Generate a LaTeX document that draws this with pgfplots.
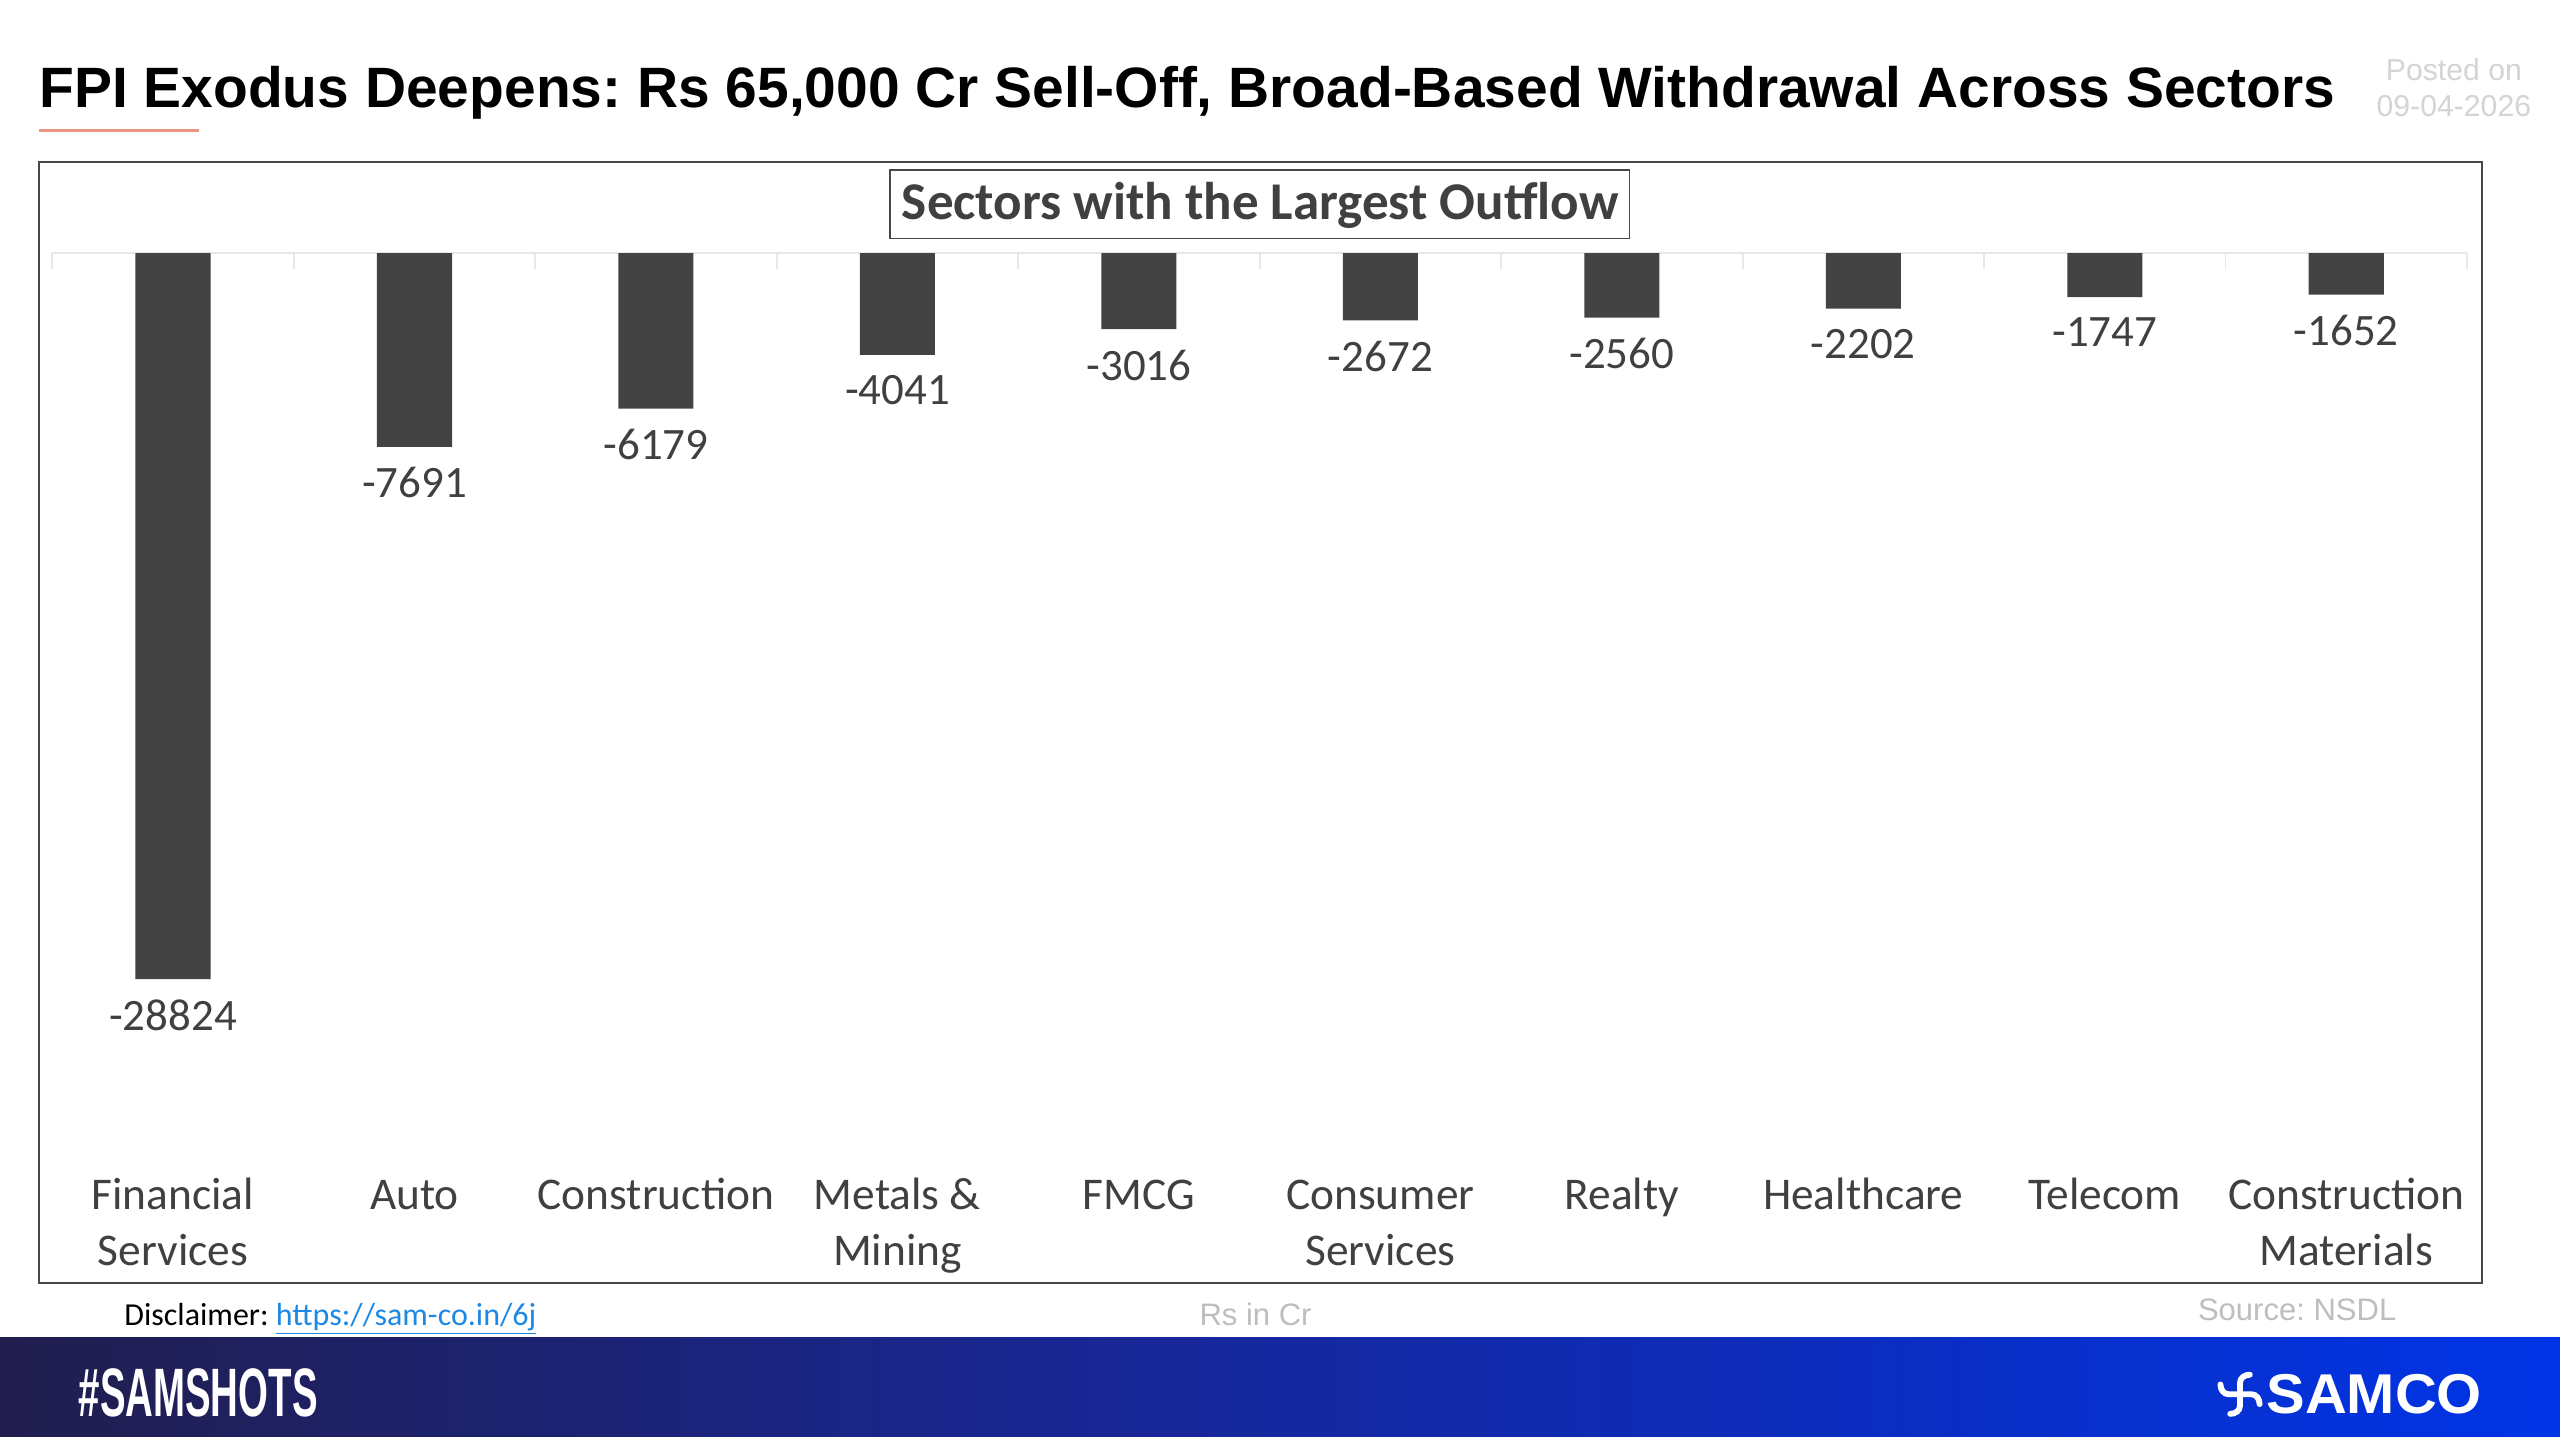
\documentclass[border=0pt]{standalone}
\usepackage{fontspec}
\setmainfont{Carlito}
\newfontfamily\arial{Liberation Sans}
\usepackage{graphicx}
\usepackage{pgfplots}
\pgfplotsset{compat=1.18}
\frenchspacing

\definecolor{barcol}{RGB}{67,67,67}
\definecolor{txt}{RGB}{64,64,64}
\definecolor{zeroline}{RGB}{226,232,236}
\definecolor{framecol}{RGB}{72,72,72}
\definecolor{navy}{RGB}{33,30,78}
\definecolor{midblue}{RGB}{22,40,160}
\definecolor{brightblue}{RGB}{0,52,230}
\definecolor{linkblue}{RGB}{30,136,229}
\definecolor{lgray}{RGB}{190,190,190}
\definecolor{pgray}{RGB}{212,212,212}
\definecolor{salmon}{RGB}{235,150,130}

\begin{document}
\begin{tikzpicture}[x=1pt,y=1pt]
\path[use as bounding box, fill=white] (0,0) rectangle (1568,882);

% heading
\node[anchor=base west, inner sep=0] at (24,816)
  {\resizebox{1406pt}{!}{\arial\bfseries\fontsize{34}{40}\selectfont FPI Exodus Deepens: Rs 65,000 Cr Sell-Off, Broad-Based Withdrawal Across Sectors}};
\draw[salmon, line width=1.4pt] (24,802) -- (122,802);
\node[text=pgray, inner sep=0] at (1503,839) {\arial\fontsize{18.5}{22}\selectfont Posted on};
\node[text=pgray, inner sep=0] at (1503,817) {\arial\fontsize{18.5}{22}\selectfont 09-04-2026};

% chart frame and title box
\draw[framecol, line width=1.3pt] (24,783) rectangle (1520,96);
\draw[framecol, line width=0.9pt] (545,778) rectangle (998,736);
\node[text=txt, inner sep=0] at (772,756)
  {\bfseries\fontsize{32.5}{38}\selectfont Sectors with the Largest Outflow};

% zero line with category separators
\draw[zeroline, line width=1.2pt] (32,727) -- (1511,727);
\foreach \i in {0,...,10}
  \draw[zeroline, line width=1.2pt] ({32+\i*147.9},727) -- ++(0,-10);

\begin{axis}[
  at={(32pt,187pt)}, anchor=south west,
  width=1479pt, height=540pt, scale only axis,
  xmin=-0.5, xmax=9.5, ymin=-35000, ymax=0,
  axis line style={draw=none},
  ytick=\empty,
  xtick={0,...,9},
  xticklabels={{Financial\\Services},Auto,Construction,{Metals \&\\Mining},FMCG,{Consumer\\Services},Realty,Healthcare,Telecom,{Construction\\Materials}},
  major tick length=0pt,
  typeset ticklabels with strut,
  xticklabel style={font=\fontsize{27.8}{34}\selectfont, text=txt, align=center, anchor=north, inner sep=0pt, yshift=-22pt},
  ybar, bar width=46pt,
  nodes near coords={\pgfmathprintnumber[fixed,precision=0,1000 sep={},assume math mode=true]{\pgfplotspointmeta}},
  every node near coord/.append style={font=\fontsize{27.5}{32}\selectfont, text=txt, anchor=north, inner sep=0pt, yshift=-12.5pt},
  clip=false,
]
\addplot[fill=barcol, draw=none] coordinates {
  (0,-28824) (1,-7691) (2,-6179) (3,-4041) (4,-3016)
  (5,-2672) (6,-2560) (7,-2202) (8,-1747) (9,-1652)
};
\end{axis}

% footer line
\node[anchor=west, inner sep=0] at (76,74)
  {\fontsize{19.6}{23}\selectfont Disclaimer: {\color{linkblue}\underline{https://sam-co.in/6j}}};
\node[text=lgray, inner sep=0] at (769,77) {\arial\fontsize{19}{22}\selectfont Rs in Cr};
\node[text=lgray, inner sep=0] at (1407,80) {\arial\fontsize{19}{22}\selectfont Source: NSDL};

% banner
\shade[left color=navy, right color=brightblue, middle color=midblue] (0,2) rectangle (1568,63);
\node[text=white, anchor=west, inner sep=0] at (48,29)
  {\scalebox{0.56}[1]{\arial\bfseries\fontsize{42}{46}\selectfont \#SAMSHOTS}};
\node[text=white, anchor=west, inner sep=0] at (1388,28)
  {\resizebox{132pt}{24pt}{\arial\bfseries\fontsize{34}{40}\selectfont SAMCO}};
\begin{scope}[shift={(1372,28)}, white, line width=3.6pt, line cap=round]
  \foreach \a in {0,90,180,270}
    \draw[rotate=\a] (0,0) -- (0,7) to[out=90,in=180] (6,12);
\end{scope}
\end{tikzpicture}
\end{document}
